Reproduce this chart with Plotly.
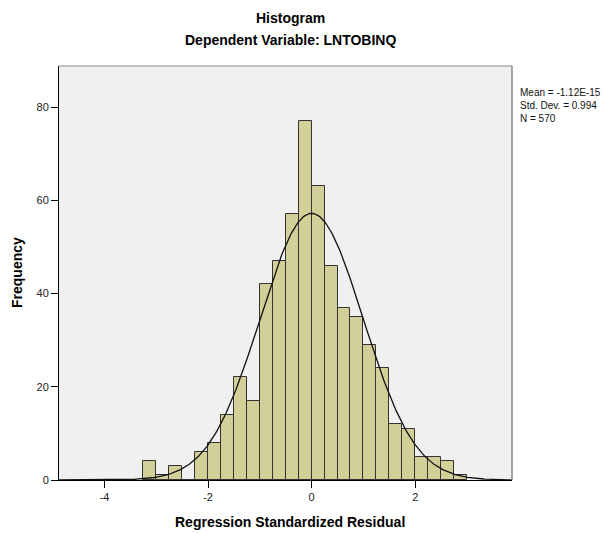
import numpy as np
import plotly.graph_objects as go

# Histogram bins (left edges) and frequencies
bin_start = -3.25
bin_width = 0.25
counts = [4, 1, 3, 0, 6, 8, 14, 22, 17, 42, 47, 57, 77,
          63, 46, 37, 35, 29, 24, 12, 11, 5, 5, 4, 1]

# Summary statistics shown on the chart
mean_val = -1.12e-15
std_val = 0.994
n_val = 570

x_ticks = [-4, -2, 0, 2]
y_ticks = [0, 20, 40, 60, 80]

centers = [bin_start + bin_width * (i + 0.5) for i in range(len(counts))]

font_fam = "Arial, Liberation Sans, sans-serif"

fig = go.Figure()
fig.add_trace(go.Bar(
    x=centers, y=counts, width=bin_width,
    marker=dict(color="#d3cf98", line=dict(color="#333333", width=1)),
    hoverinfo="x+y", showlegend=False,
))

# fitted normal curve from reported mean / sd / N
xs = np.linspace(-4.88, 3.87, 400)
ys = n_val * bin_width * np.exp(-0.5 * ((xs - mean_val) / std_val) ** 2) / (std_val * np.sqrt(2 * np.pi))
fig.add_trace(go.Scatter(x=xs, y=ys, mode="lines",
                         line=dict(color="#111111", width=1.3),
                         showlegend=False, hoverinfo="skip"))

fig.update_layout(
    width=614, height=533,
    margin=dict(l=59, r=102, t=66, b=53),
    paper_bgcolor="white", plot_bgcolor="#f0f0f0",
    font=dict(family=font_fam, color="#000000"),
    bargap=0,
    xaxis=dict(
        range=[-4.88, 3.87], tickvals=x_ticks, ticktext=[str(v) for v in x_ticks],
        ticks="outside", ticklen=7, tickcolor="#000", showgrid=False, zeroline=False,
        showline=True, linecolor="#000", linewidth=1, mirror=False, automargin=False,
        tickfont=dict(size=11, color="#222"),
    ),
    yaxis=dict(
        range=[0, 88.8], tickvals=y_ticks, ticktext=[str(v) for v in y_ticks],
        ticks="outside", ticklen=7, tickcolor="#000", showgrid=False, zeroline=False,
        showline=True, linecolor="#000", linewidth=1, automargin=False,
        tickfont=dict(size=11, color="#222"),
    ),
    shapes=[
        dict(type="line", xref="paper", yref="paper", x0=0, x1=1, y0=1, y1=1,
             line=dict(color="#888888", width=1)),
        dict(type="line", xref="paper", yref="paper", x0=1, x1=1, y0=0, y1=1,
             line=dict(color="#888888", width=1.5)),
    ],
    annotations=[
        dict(text="<b>Histogram</b>", xref="paper", yref="paper", x=0.51, y=1,
             yshift=58, showarrow=False, font=dict(size=14), xanchor="center"),
        dict(text="<b>Dependent Variable: LNTOBINQ</b>", xref="paper", yref="paper", x=0.51, y=1,
             yshift=36, showarrow=False, font=dict(size=14), xanchor="center"),
        dict(text="<b>Regression Standardized Residual</b>", xref="paper", yref="paper",
             x=0.51, y=0, yshift=-52, showarrow=False, font=dict(size=14), xanchor="center"),
        dict(text="<b>Frequency</b>", xref="paper", yref="paper", textangle=-90,
             x=0, y=0.5, xshift=-42, showarrow=False, font=dict(size=14), xanchor="center"),
        dict(text=f"Mean = -1.12E-15<br>Std. Dev. = {std_val}<br>N = {n_val}",
             xref="paper", yref="paper", x=1, y=1, xshift=6, yshift=-19,
             xanchor="left", yanchor="top", align="left", showarrow=False,
             font=dict(size=10, color="#111")),
    ],
)

fig.write_html("out.html")
